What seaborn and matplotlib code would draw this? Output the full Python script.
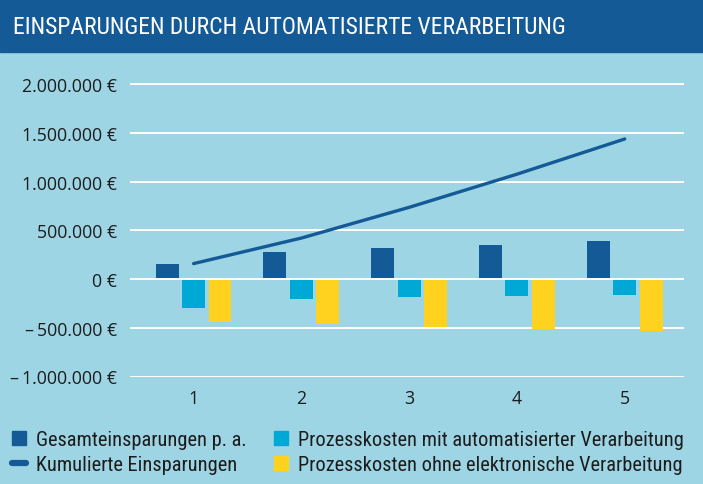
import numpy as np
import pandas as pd
import matplotlib
matplotlib.use("Agg")
import matplotlib.pyplot as plt
import seaborn as sns
from matplotlib.patches import Rectangle, Patch
from matplotlib.lines import Line2D
from matplotlib.ticker import FuncFormatter

# data
years = ["1", "2", "3", "4", "5"]
gesamt = [154000, 274000, 315000, 346000, 387000]
mit_auto = [-297000, -205000, -185000, -174000, -164000]
ohne_elektr = [-441000, -462000, -492000, -509000, -529000]
kumuliert = [158000, 420000, 735000, 1075000, 1436000]
y_ticks = [-1000000, -500000, 0, 500000, 1000000, 1500000, 2000000]

series_names = [
    "Gesamteinsparungen p. a.",
    "Prozesskosten mit automatisierter Verarbeitung",
    "Prozesskosten ohne elektronische Verarbeitung",
]
line_name = "Kumulierte Einsparungen"

DARK = "#135A96"
CYAN = "#00A8D6"
YELLOW = "#FFD21F"
BG = "#9DD5E5"
TXT = "#1c1c1c"

df = pd.DataFrame({
    "Jahr": years * 3,
    "Wert": gesamt + mit_auto + ohne_elektr,
    "Reihe": [series_names[0]] * 5 + [series_names[1]] * 5 + [series_names[2]] * 5,
})

sns.set_theme(style="white")
cond = ["Roboto Condensed", "Liberation Sans Narrow", "DejaVu Sans"]
plt.rcParams["font.family"] = ["Open Sans", "DejaVu Sans"]

W, H = 703, 485
fig = plt.figure(figsize=(7.03, 4.85), dpi=100)
fig.patch.set_facecolor(BG)

# header band
fig.patches.append(Rectangle((0, 1 - 53 / H), 1, 53 / H, transform=fig.transFigure,
                             color=DARK, zorder=0))
fig.text(13 / W, 1 - 28 / H, "EINSPARUNGEN DURCH AUTOMATISIERTE VERARBEITUNG",
         color="white", fontsize=17, va="center", ha="left", family=cond)

# axes placement in pixels
left, right, top, bottom = 130, 684, 70, 378
ax = fig.add_axes([left / W, 1 - bottom / H, (right - left) / W, (bottom - top) / H])
ax.set_facecolor(BG)

sns.barplot(data=df, x="Jahr", y="Wert", hue="Reihe", order=years,
            hue_order=series_names, palette=[DARK, CYAN, YELLOW],
            width=0.735, gap=0.13, saturation=1, linewidth=0, edgecolor="none",
            ax=ax, legend=False, zorder=2)
sns.lineplot(x=np.arange(len(years)), y=kumuliert, color=DARK, linewidth=2.4,
             ax=ax, zorder=4, solid_capstyle="round")

px_per_val = 48.75 / 500000
ax.set_ylim(-(bottom - 280) / px_per_val, (280 - top) / px_per_val)
ax.set_xlim(-0.59, 4.55)

for t in y_ticks:
    ax.axhline(t, color="white", linewidth=1.4, zorder=1 if t != 0 else 5)


def euro(v, pos=None):
    s = f"{abs(int(v)):,}".replace(",", ".") + " €"
    return ("–\u2009" + s) if v < 0 else s


ax.set_yticks(y_ticks)
ax.yaxis.set_major_formatter(FuncFormatter(euro))
ax.tick_params(axis="y", length=0, pad=9.4, labelsize=12.8, labelcolor=TXT)
ax.tick_params(axis="x", length=0, pad=8.5, labelsize=12.8, labelcolor=TXT)
ax.set_xlabel("")
ax.set_ylabel("")
for s in ax.spines.values():
    s.set_visible(False)

handles = [
    Patch(color=DARK, label=series_names[0]),
    Line2D([0], [0], color=DARK, linewidth=4.5, solid_capstyle="round", label=line_name),
    Patch(color=CYAN, label=series_names[1]),
    Patch(color=YELLOW, label=series_names[2]),
]
fig.legend(handles=handles, ncol=2, loc="lower left", bbox_to_anchor=(12 / W, 10 / H),
           frameon=False, handlelength=0.69, handleheight=0.64, handletextpad=0.49,
           columnspacing=1.32, labelspacing=0.28, borderpad=0, borderaxespad=0,
           prop={"family": cond, "size": 14.7}, labelcolor=TXT)

fig.savefig("out.png", dpi=100, facecolor=BG)
